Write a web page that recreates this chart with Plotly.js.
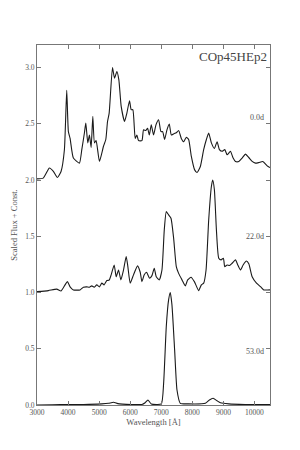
<!DOCTYPE html>
<html>
<head>
<meta charset="utf-8">
<script src="https://cdn.plot.ly/plotly-3.0.1.min.js"></script>
<style>html,body{margin:0;padding:0;background:#fff;}#plot{width:300px;height:450px;}</style>
</head>
<body>
<div id="plot"></div>
<script>
// Epochs (days), vertical offsets (constants) and label heights
const epochLabels = ['0.0d', '22.0d', '53.0d'];
const offsets = [2.0, 1.0, 0.0];
const labelLevels = [2.56, 1.5, 0.48];
const titleText = 'COp45HEp2';

// Spectrum at 0.0d
const wl0 = [3000,3200,3400,3527,3656,3774,3882,3957,4010,4065,4171,4365,4442,4527,4571,4635,4688,4742,4796,4850,4903,5010,5140,5215,5270,5323,5430,5495,5570,5635,5710,5818,5893,5978,6032,6085,6161,6215,6269,6377,6430,6500,6560,6615,6678,6753,6829,6914,6990,7045,7108,7183,7258,7323,7398,7484,7559,7645,7720,7807,7881,7968,8075,8152,8258,8365,8452,8527,8613,8710,8797,8871,8958,9045,9120,9226,9313,9388,9496,9603,9710,9818,9926,10032,10140,10268,10410,10500];
const flux0 = [0.01,0.017,0.106,0.076,0.022,0.076,0.269,0.797,0.43,0.37,0.195,0.15,0.27,0.42,0.506,0.33,0.40,0.29,0.565,0.33,0.35,0.165,0.30,0.36,0.52,0.595,1.0,0.905,0.965,0.89,0.654,0.52,0.595,0.705,0.625,0.625,0.37,0.40,0.35,0.35,0.446,0.44,0.46,0.40,0.49,0.40,0.49,0.536,0.43,0.43,0.36,0.446,0.497,0.40,0.41,0.42,0.44,0.37,0.34,0.38,0.36,0.21,0.09,0.067,0.12,0.27,0.36,0.417,0.33,0.28,0.34,0.27,0.255,0.27,0.224,0.255,0.195,0.165,0.165,0.195,0.23,0.20,0.165,0.15,0.155,0.165,0.126,0.11];

// Spectrum at 22.0d
const wl1 = [3000,3366,3635,3774,3903,3978,4065,4171,4387,4494,4600,4688,4764,4840,4925,5010,5086,5160,5248,5323,5387,5485,5549,5624,5700,5785,5871,5925,6000,6107,6236,6323,6377,6452,6527,6623,6700,6774,6839,6936,7022,7097,7162,7236,7313,7398,7484,7559,7668,7774,7850,7958,8065,8204,8291,8365,8442,8527,8613,8656,8710,8775,8850,8926,9000,9043,9120,9196,9280,9388,9463,9549,9635,9742,9818,9925,10065,10194,10300,10500];
const flux1 = [0.008,0.017,0.03,0.014,0.068,0.097,0.05,0.023,0.023,0.047,0.05,0.047,0.059,0.047,0.068,0.05,0.083,0.068,0.106,0.11,0.157,0.245,0.14,0.20,0.112,0.20,0.32,0.23,0.083,0.157,0.237,0.18,0.097,0.157,0.18,0.127,0.15,0.216,0.14,0.112,0.20,0.557,0.72,0.69,0.66,0.483,0.23,0.17,0.112,0.059,0.112,0.136,0.097,0.017,0.068,0.083,0.20,0.646,0.942,1.0,0.913,0.557,0.305,0.29,0.305,0.23,0.245,0.24,0.26,0.29,0.245,0.20,0.245,0.28,0.255,0.14,0.083,0.052,0.023,0.023];

// Spectrum at 53.0d
const wl2 = [3000,3500,4000,4500,5086,5300,5462,5600,5750,6054,6377,6480,6570,6678,7000,7075,7162,7236,7290,7344,7430,7506,7613,7870,8420,8549,8668,8797,8904,9175,9700,10500];
const flux2 = [0.0,0.002,0.005,0.005,0.01,0.015,0.024,0.012,0.008,0.005,0.005,0.02,0.045,0.01,0.01,0.19,0.70,0.934,1.0,0.89,0.49,0.133,0.015,0.01,0.015,0.045,0.06,0.037,0.02,0.01,0.005,0.003];

const xTicks = [3000,4000,5000,6000,7000,8000,9000,10000];
const yTicks = [0.0,0.5,1.0,1.5,2.0,2.5,3.0];

const spectra = [[wl0, flux0], [wl1, flux1], [wl2, flux2]];
const traces = spectra.map((s, i) => ({
  x: s[0],
  y: s[1].map(v => v + offsets[i]),
  type: 'scatter', mode: 'lines',
  line: {color: '#1a1a1a', width: 1.1, shape: 'spline', smoothing: 0.5},
  showlegend: false, hoverinfo: 'skip'
}));

const serif = 'Liberation Serif, DejaVu Serif, serif';
const axisColor = '#777';
const annotations = epochLabels.map((t, i) => ({
  text: t, xref: 'paper', yref: 'y', x: 1, y: labelLevels[i],
  xanchor: 'right', yanchor: 'middle', xshift: -4, showarrow: false,
  font: {family: serif, size: 8, color: '#555'}
}));
annotations.push({
  text: titleText, xref: 'paper', yref: 'paper', x: 0.995, y: 0.995,
  xanchor: 'right', yanchor: 'top', showarrow: false,
  font: {family: serif, size: 13, color: '#444'}
});

const layout = {
  width: 300, height: 450,
  margin: {l: 37, r: 30, t: 45, b: 45},
  paper_bgcolor: '#fff', plot_bgcolor: '#fff',
  font: {family: serif, color: '#555', size: 8},
  xaxis: {
    range: [3000, 10500], tickvals: xTicks, ticktext: xTicks.map(String),
    ticks: 'inside', ticklen: 4, tickcolor: axisColor, mirror: 'ticks',
    showline: true, linecolor: axisColor, linewidth: 1,
    showgrid: false, zeroline: false,
    tickfont: {family: serif, size: 7.5, color: '#555'},
    title: {text: 'Wavelength [Å]', font: {family: serif, size: 8.5, color: '#555'}, standoff: 2}
  },
  yaxis: {
    range: [0, 3.2], tickvals: yTicks, ticktext: yTicks.map(v => v.toFixed(1)),
    ticks: 'inside', ticklen: 4, tickcolor: axisColor, mirror: 'ticks',
    showline: true, linecolor: axisColor, linewidth: 1,
    showgrid: false, zeroline: false,
    tickfont: {family: serif, size: 7.5, color: '#555'},
    title: {text: 'Scaled Flux + Const.', font: {family: serif, size: 8.5, color: '#555'}, standoff: 6}
  },
  annotations: annotations
};

Plotly.newPlot('plot', traces, layout, {displayModeBar: false, staticPlot: true});
</script>
</body>
</html>
